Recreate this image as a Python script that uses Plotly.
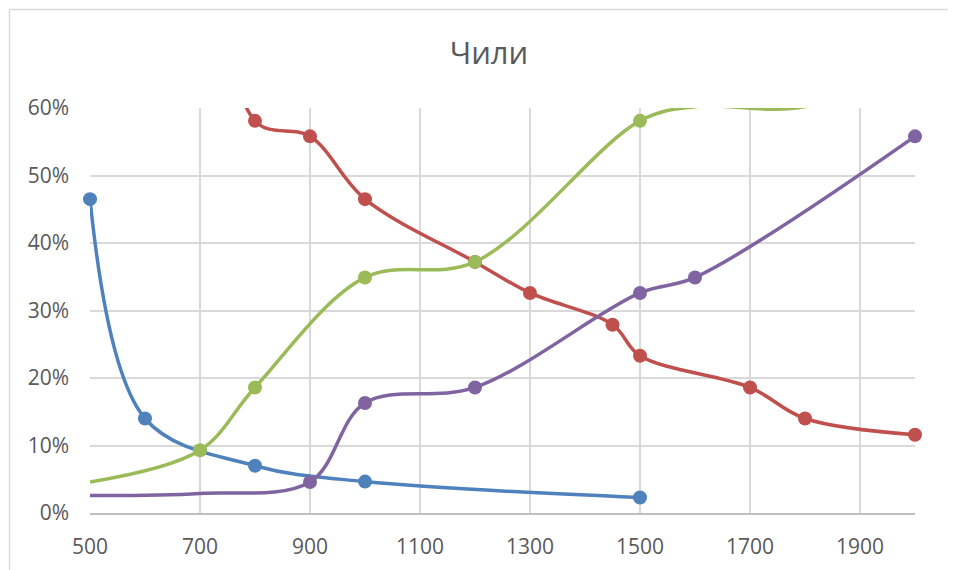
import plotly.graph_objects as go

# ---- data ----
blue_x = [500, 600, 800, 1000, 1500]
blue_y = [0.465, 0.140, 0.070, 0.0465, 0.023]

red_x = [700, 800, 900, 1000, 1200, 1300, 1450, 1500, 1700, 1800, 2000]
red_y = [1.00, 0.581, 0.558, 0.465, 0.372, 0.326, 0.279, 0.233, 0.186, 0.140, 0.116]

green_x = [500, 700, 800, 1000, 1200, 1500, 1600, 1800, 2000]
green_y = [0.046, 0.093, 0.186, 0.349, 0.372, 0.581, 0.602, 0.602, 0.674]

purple_x = [500, 700, 900, 1000, 1200, 1500, 1600, 2000]
purple_y = [0.026, 0.029, 0.046, 0.163, 0.186, 0.326, 0.349, 0.558]

# points drawn without a marker (line only; includes points above the 60% axis top)
unmarked_x = {"blue": [], "red": [700], "green": [500, 1600, 1800, 2000], "purple": [500, 700]}

x_ticks = [500, 700, 900, 1100, 1300, 1500, 1700, 1900]
y_ticks = [0, 0.1, 0.2, 0.3, 0.4, 0.5, 0.6]

title_text = "Чили"

# ---- styling ----
colors = {"blue": "#4F81BD", "red": "#C0504D", "green": "#9BBB59", "purple": "#8064A2"}
MARKER = 14
FONT = "Open Sans, Noto Sans, DejaVu Sans, sans-serif"
TEXT = "#595959"

fig = go.Figure()
series = [("blue", blue_x, blue_y), ("red", red_x, red_y),
          ("green", green_x, green_y), ("purple", purple_x, purple_y)]
for name, xs, ys in series:
    sizes = [0 if x in unmarked_x[name] else MARKER for x in xs]
    fig.add_trace(go.Scatter(
        x=xs, y=ys, mode="lines+markers", name=name,
        line=dict(color=colors[name], width=3.5, shape="spline", smoothing=1.0),
        marker=dict(color=colors[name], size=sizes, opacity=1, line=dict(width=0)),
        cliponaxis=False,
        showlegend=False, hoverinfo="x+y",
    ))

# page body has an 8px margin; figure sized so the page matches 956x570
OFF = 8
W, H = 956 - OFF, 570 - OFF
L, R, T, B = 90 - OFF, 41, 108 - OFF, 57
pw, ph = W - L - R, H - T - B

def px_to_paper_x(px):
    return (px - L) / pw

def px_to_paper_y(py):
    return (H - B - py) / ph

border = "#D9D9D9"
bx, by = 9.5 - OFF, 9.5 - OFF
fig.add_shape(type="line", xref="paper", yref="paper",
              x0=px_to_paper_x(bx), x1=px_to_paper_x(W + 5),
              y0=px_to_paper_y(by), y1=px_to_paper_y(by),
              line=dict(color=border, width=1.5))
fig.add_shape(type="line", xref="paper", yref="paper",
              x0=px_to_paper_x(bx), x1=px_to_paper_x(bx),
              y0=px_to_paper_y(by), y1=px_to_paper_y(H + 5),
              line=dict(color=border, width=1.5))

fig.update_layout(
    width=W, height=H,
    margin=dict(l=L, r=R, t=T, b=B, autoexpand=False),
    paper_bgcolor="white", plot_bgcolor="white",
    font=dict(family=FONT, color=TEXT, size=21),
    title=dict(text=title_text, x=(489 - OFF) / W, xanchor="center",
               y=1 - (53 - OFF) / H, yanchor="middle", yref="container", xref="container",
               font=dict(size=31, color=TEXT, family=FONT)),
    xaxis=dict(range=[500, 2000], tickvals=x_ticks, ticktext=[str(v) for v in x_ticks],
               showgrid=True, gridcolor="#D9D9D9", gridwidth=1.5,
               showline=True, linecolor="#BFBFBF", linewidth=1.5,
               zeroline=False, ticks="", ticklabelstandoff=14,
               tickfont=dict(size=21, color=TEXT, family=FONT)),
    yaxis=dict(range=[0, 0.6], tickvals=y_ticks, tickformat=".0%",
               showgrid=True, gridcolor="#D9D9D9", gridwidth=1.5,
               showline=False, zeroline=False, ticks="", ticklabelstandoff=20,
               tickfont=dict(size=21, color=TEXT, family=FONT)),
)

fig.write_html("out.html")
